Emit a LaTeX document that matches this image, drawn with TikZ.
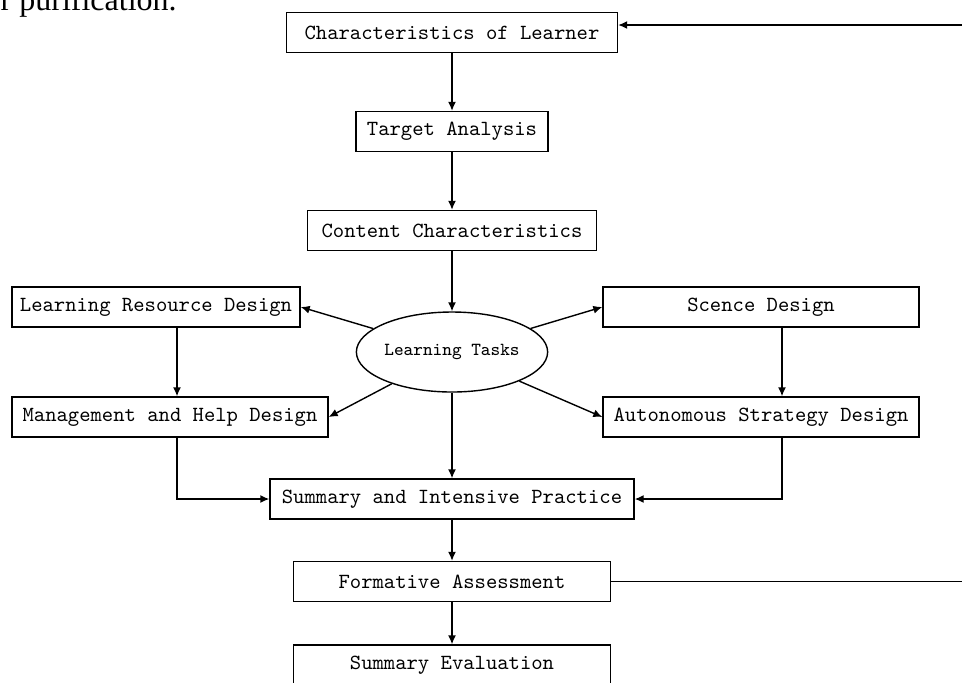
\documentclass[tikz,border=0pt]{standalone}
\usepackage{fontspec}
\newfontfamily\bodyfont{Liberation Serif}
\usetikzlibrary{shapes,arrows.meta}

\begin{document}
\begin{tikzpicture}[x=0.5pt,y=-0.5pt,line width=0.7pt,>={Latex[length=4.5pt,width=4pt]},
		box/.style={draw,rectangle,inner sep=0pt,minimum height=20pt,font=\fontsize{10.8}{13}\selectfont\ttfamily},
		task/.style={draw,ellipse,inner sep=0pt,minimum width=76pt,minimum height=40pt,font=\fontsize{9.2}{11}\selectfont\ttfamily}]
		\useasboundingbox (0,0) rectangle (962,682);
		\clip (0,0) rectangle (962,682);
		\node[anchor=base west,inner sep=0pt,font=\fontsize{16}{18}\selectfont\bodyfont] (txt) at (0,10) {r purification.};
		% central column
		\node[box,minimum width=165.5pt] (cl) at (452,32.5) {Characteristics of Learner};
		\node[box,minimum width=96pt] (ta) at (452,131.5) {Target Analysis};
		\node[box,minimum width=144.5pt] (cc) at (452,230.5) {Content Characteristics};
		\node[task] (lt) at (452,352) {Learning Tasks};
		\node[box,minimum width=182pt] (sip) at (452,499) {Summary and Intensive Practice};
		\node[box,minimum width=158.5pt] (fa) at (452,581.5) {Formative Assessment};
		\node[box,minimum width=158.5pt] (se) at (452,665) {Summary Evaluation};
		% side boxes
		\node[box,minimum width=144pt] (lrd) at (156,307) {Learning Resource Design};
		\node[box,minimum width=158pt] (mhd) at (170,417) {Management and Help Design};
		\node[box,minimum width=158pt] (sd) at (761,307) {Scence Design};
		\node[box,minimum width=158pt] (asd) at (761,417) {Autonomous Strategy Design};
		\coordinate (fbot) at (966,581.5);
		\coordinate (ftop) at (966,25);
		\foreach \a / \b in {cl/ta,ta/cc,cc/lt,lt/sip,sip/fa,fa/se} { \draw[->] (\a) -- (\b);}
		\foreach \b in {lrd.east,mhd.east,sd.west,asd.west} { \draw[->] (lt) -- (\b);}
		\draw[->] ([xshift=3.5pt]mhd.north |- lrd.south) -- ([xshift=3.5pt]mhd.north);
		\draw[->] ([xshift=10.5pt]sd.south) -- ([xshift=10.5pt]asd.north);
		\draw[->] ([xshift=3.5pt]mhd.south) |- (sip.west);
		\draw[->] ([xshift=10.5pt]asd.south) |- (sip.east);
		\draw[->] (fa.east) -- (fbot) -- (ftop) -- (cl.east |- ftop);
	\end{tikzpicture}
\end{document}
